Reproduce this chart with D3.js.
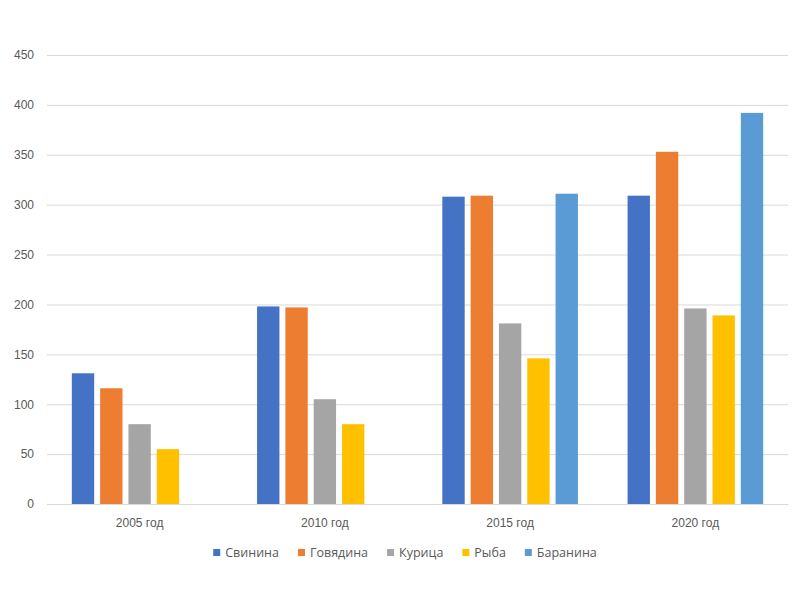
<!DOCTYPE html>
<html>
<head>
<meta charset="utf-8">
<script src="https://cdn.jsdelivr.net/npm/d3@7"></script>
<style>
  body { margin: 0; padding: 0; background: #fff; }
  svg { display: block; font-family: "Open Sans", "Noto Sans", sans-serif; }
</style>
</head>
<body>
<div id="chart"></div>
<script>
// data
var years = ["2005 год", "2010 год", "2015 год", "2020 год"];
var meats = ["Свинина", "Говядина", "Курица", "Рыба", "Баранина"];
var pork   = [131, 198, 308, 309];
var beef   = [116, 197, 309, 353];
var chick  = [80, 105, 181, 196];
var fish   = [55, 80, 146, 189];
var lamb   = [null, null, 311, 392];
var yTicks = [0, 50, 100, 150, 200, 250, 300, 350, 400, 450];
var colors = ["#4472C4", "#ED7D31", "#A5A5A5", "#FFC000", "#5B9BD5"];

var series = [pork, beef, chick, fish, lamb];

var W = 800, H = 600;
var mLeft = 47, mRight = 788, mTop = 55, mBottom = 504;

var svg = d3.select("#chart").append("svg")
  .attr("width", W).attr("height", H);

var y = d3.scaleLinear().domain([0, 450]).range([mBottom, mTop]);

var x0 = d3.scaleBand().domain(years).range([mLeft, mRight])
  .paddingInner(0.268).paddingOuter(0.134);

var x1 = d3.scaleBand().domain(meats).range([0, x0.bandwidth()])
  .paddingInner(0.21).paddingOuter(0);

var color = d3.scaleOrdinal().domain(meats).range(colors);

// gridlines + tick labels
var yAxis = d3.axisLeft(y).tickValues(yTicks).tickSize(-(mRight - mLeft)).tickPadding(13);
var ga = svg.append("g").attr("transform", "translate(" + mLeft + ",0)").call(yAxis);
ga.select(".domain").remove();
ga.selectAll(".tick line").attr("stroke", "#d9d9d9").attr("stroke-width", 1);
ga.selectAll(".tick text").attr("fill", "#595959").style("font-size", "12px");

// bars
var rows = [];
years.forEach(function(yr, i) {
  meats.forEach(function(m, j) {
    if (series[j][i] != null) rows.push({ year: yr, meat: m, value: series[j][i] });
  });
});

svg.append("g").selectAll("rect")
  .data(rows)
  .enter()
  .append("rect")
  .attr("x", function(d) { return x0(d.year) + x1(d.meat); })
  .attr("y", function(d) { return y(d.value); })
  .attr("width", x1.bandwidth())
  .attr("height", function(d) { return y(0) - y(d.value); })
  .attr("fill", function(d) { return color(d.meat); });

// x axis
var xAxis = d3.axisBottom(x0).tickSize(0).tickPadding(14);
var gx = svg.append("g").attr("transform", "translate(0," + mBottom + ")").call(xAxis);
gx.select(".domain").attr("stroke", "#d9d9d9");
gx.selectAll(".tick text").attr("fill", "#595959").style("font-size", "12px");

// legend, centred a bit left of plot centre like the original
var gap = 19;
var lg = svg.append("g");
var lx = 0;
meats.forEach(function(m) {
  var item = lg.append("g").attr("transform", "translate(" + lx + ",0)");
  item.append("rect").attr("x", 0).attr("y", -8).attr("width", 7).attr("height", 7).attr("fill", color(m));
  var t = item.append("text").attr("x", 12).attr("y", 0).attr("fill", "#595959")
    .style("font-size", "12.5px").text(m);
  lx += 12 + t.node().getComputedTextLength() + gap;
});
var lw = lx - gap;
lg.attr("transform", "translate(" + (405 - lw / 2) + ",557)");
</script>
</body>
</html>
